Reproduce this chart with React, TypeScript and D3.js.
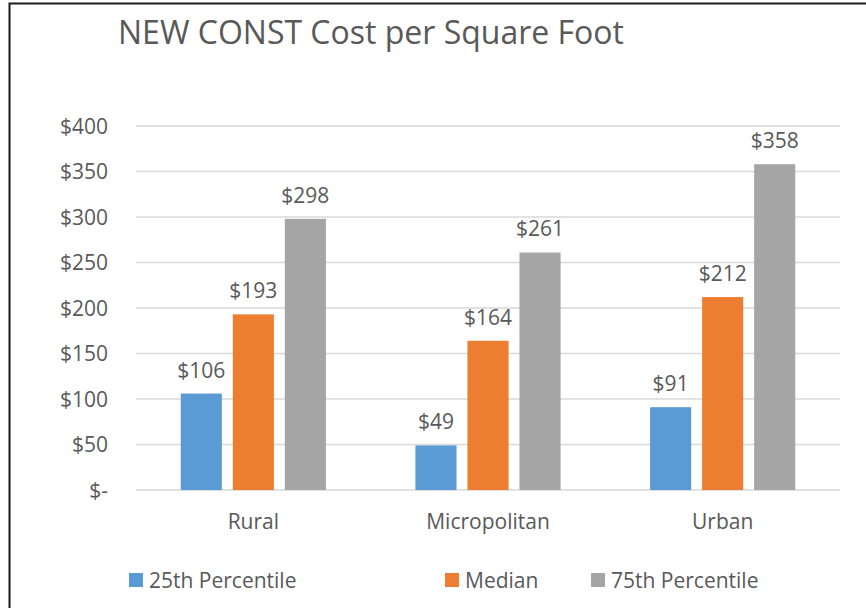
import { useEffect, useRef } from "react";
import * as d3 from "d3";

// chart values
const CATEGORIES = ["Rural", "Micropolitan", "Urban"];
const SERIES = ["25th Percentile", "Median", "75th Percentile"];
const P25 = [106, 49, 91];
const MEDIAN = [193, 164, 212];
const P75 = [298, 261, 358];
const Y_TICKS = [0, 50, 100, 150, 200, 250, 300, 350, 400];
const COLORS = ["#5B9BD5", "#ED7D31", "#A5A5A5"];

const W = 866;
const H = 608;
const FONT = "'Open Sans', 'Noto Sans', sans-serif";
const TEXT = "#595959";

export default function App() {
  const svgRef = useRef<SVGSVGElement>(null);

  useEffect(() => {
    const svg = d3.select(svgRef.current);
    svg.selectAll("*").remove();

    const margin = { top: 126, left: 136, right: 26, bottom: 118 };
    const innerW = W - margin.left - margin.right;
    const innerH = H - margin.top - margin.bottom;

    const rows = CATEGORIES.map((c, i) => ({
      cat: c,
      values: [P25[i], MEDIAN[i], P75[i]],
    }));

    // outer frame (only left and top edges show in the crop)
    svg.append("rect")
      .attr("x", 9.5).attr("y", 3.5)
      .attr("width", W + 20).attr("height", H + 20)
      .attr("fill", "white")
      .attr("stroke", "#1a1a1a").attr("stroke-width", 2);

    svg.append("text")
      .attr("x", 118).attr("y", 44)
      .attr("font-family", FONT).attr("font-size", 32)
      .attr("fill", TEXT)
      .text("NEW CONST Cost per Square Foot");

    const g = svg.append("g")
      .attr("transform", `translate(${margin.left},${margin.top})`);

    const x0 = d3.scaleBand().domain(CATEGORIES).range([0, innerW]);
    const x1 = d3.scaleBand<number>()
      .domain([0, 1, 2])
      .range([0, x0.bandwidth()])
      .paddingInner(0.21)
      .paddingOuter(0.86);
    const y = d3.scaleLinear().domain([0, 400]).range([innerH, 0]);

    // gridlines
    g.append("g")
      .selectAll("line")
      .data(Y_TICKS)
      .join("line")
      .attr("x1", 0).attr("x2", innerW)
      .attr("y1", (d) => y(d)).attr("y2", (d) => y(d))
      .attr("stroke", "#d9d9d9").attr("stroke-width", 1.5);

    // y labels
    g.append("g")
      .selectAll("text")
      .data(Y_TICKS)
      .join("text")
      .attr("x", -28).attr("y", (d) => y(d))
      .attr("dy", "0.36em")
      .attr("text-anchor", "end")
      .attr("font-family", FONT).attr("font-size", 21)
      .attr("fill", TEXT)
      .text((d) => (d === 0 ? "$-" : `$${d}`));

    // bars
    const groups = g.append("g")
      .selectAll("g")
      .data(rows)
      .join("g")
      .attr("transform", (d) => `translate(${x0(d.cat)},0)`);

    groups.selectAll("rect")
      .data((d) => d.values.map((v, i) => ({ v, i })))
      .join("rect")
      .attr("x", (d) => x1(d.i)!)
      .attr("width", x1.bandwidth())
      .attr("y", (d) => y(d.v))
      .attr("height", (d) => innerH - y(d.v))
      .attr("fill", (d) => COLORS[d.i]);

    groups.selectAll("text")
      .data((d) => d.values.map((v, i) => ({ v, i })))
      .join("text")
      .attr("x", (d) => x1(d.i)! + x1.bandwidth() / 2)
      .attr("y", (d) => y(d.v) - 16)
      .attr("text-anchor", "middle")
      .attr("font-family", FONT).attr("font-size", 21)
      .attr("fill", TEXT)
      .text((d) => `$${d.v}`);

    // category labels
    g.append("g")
      .selectAll("text")
      .data(CATEGORIES)
      .join("text")
      .attr("x", (d) => x0(d)! + x0.bandwidth() / 2)
      .attr("y", innerH + 39)
      .attr("text-anchor", "middle")
      .attr("font-family", FONT).attr("font-size", 21)
      .attr("fill", TEXT)
      .text((d) => d);

    // legend
    const legendX = [129, 445, 591];
    const legend = svg.append("g");
    SERIES.forEach((s, i) => {
      legend.append("rect")
        .attr("x", legendX[i]).attr("y", 573)
        .attr("width", 14).attr("height", 14)
        .attr("fill", COLORS[i]);
      legend.append("text")
        .attr("x", legendX[i] + 20).attr("y", 588)
        .attr("font-family", FONT).attr("font-size", 21)
        .attr("fill", TEXT)
        .text(s);
    });
  }, []);

  return (
    <svg
      ref={svgRef}
      width={W}
      height={H}
      style={{ position: "absolute", left: 0, top: 0, display: "block" }}
    />
  );
}
